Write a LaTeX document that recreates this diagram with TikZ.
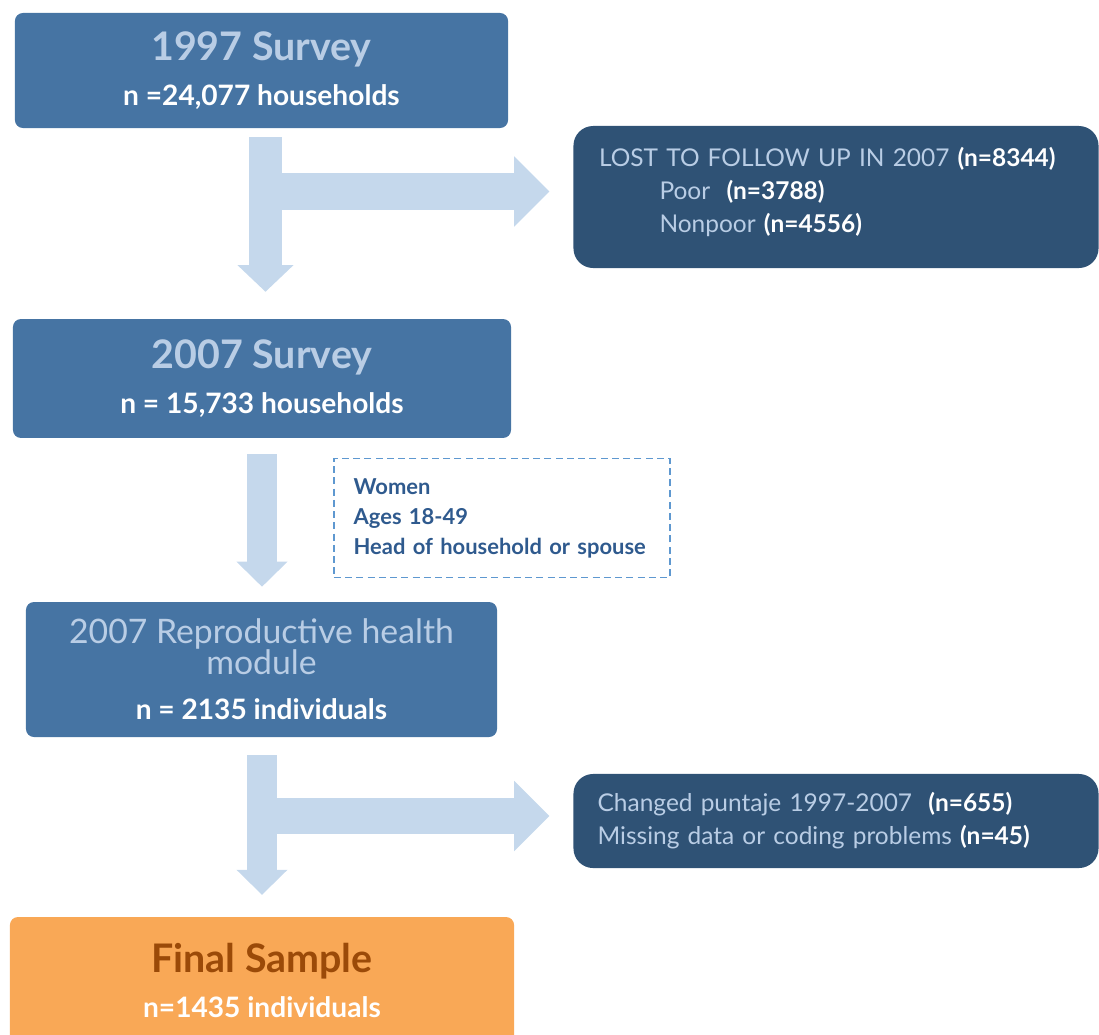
\documentclass[tikz,border=0pt]{standalone}
\usepackage{fontspec}
\setmainfont{Lato}
\usetikzlibrary{positioning,arrows.meta}
\definecolor{boxblue}{HTML}{4674A3}
\definecolor{darkblue}{HTML}{2F5275}
\definecolor{paleblue}{HTML}{B9CDE5}
\definecolor{arrowblue}{HTML}{C5D8EC}
\definecolor{dashblue}{HTML}{5E98D0}
\definecolor{textblue}{HTML}{2F5A8E}
\definecolor{finalorange}{HTML}{F9A856}
\definecolor{finalbrown}{HTML}{9B4A08}
\newcommand\bigtitle{\fontsize{28}{22}\selectfont}
\newcommand\rhtitle{\fontsize{24}{22}\selectfont\mdseries\color{paleblue}}
\begin{document}
\begin{tikzpicture}[x=0.025cm,y=-0.025cm,
survey/.style={
rectangle,
fill=boxblue,
rounded corners=5.7pt,
inner sep=0pt,
align=center,
text=white,
font=\fontsize{20}{22}\selectfont\bfseries
},
lost/.style={
rectangle,
fill=darkblue,
rounded corners=14pt,
inner xsep=18pt,
inner ysep=0pt,
align=left,
text=paleblue,
font=\fontsize{17.4}{23.5}\selectfont
},
filter/.style={
rectangle,
draw=dashblue,
dash pattern=on 5pt off 3pt,
line width=1.1pt,
inner xsep=14pt,
inner ysep=0pt,
align=left,
text=textblue,
font=\fontsize{15.6}{21.3}\selectfont\bfseries
},
down/.style={draw=arrowblue,line width=23pt,-{Triangle[length=19pt,width=40pt,line width=0pt]}},
side/.style={draw=arrowblue,line width=26pt,-{Triangle[length=25pt,width=50pt,line width=0pt]}},
]
\useasboundingbox (0,0) rectangle (1099,1034);
\node (s97) [survey, minimum width=350.7pt, minimum height=81.8pt] at (261.5,70.5)
  {{\bigtitle\color{paleblue}1997 Survey}\\[10pt]n =24,077 households};
\node (lost) [lost, minimum width=373.4pt, minimum height=101pt, text width=337pt, text depth=57.5pt] at (836,197)
  {LOST TO FOLLOW UP IN 2007 {\bfseries\color{white}(n=8344)}\\
   \hspace*{43pt}Poor\ \ {\bfseries\color{white}(n=3788)}\\
   \hspace*{43pt}Nonpoor {\bfseries\color{white}(n=4556)}};
\node (s07) [survey, minimum width=354.2pt, minimum height=84.6pt] at (262,378.5)
  {{\bigtitle\color{paleblue}2007 Survey}\\[10pt]n = 15,733 households};
\node (women) [filter, minimum width=239pt, minimum height=84.6pt, text width=211pt] at (502,518)
  {Women\\Ages 18-49\\Head of household or spouse};
\node (rh) [survey, minimum width=335pt, minimum height=96pt] at (261.5,669.5)
  {{\rhtitle 2007 Reproductive health}\\{\rhtitle module}\\[10pt]n = 2135 individuals};
\node (drop) [lost, minimum width=373.4pt, minimum height=66.9pt, text width=339pt, inner xsep=17pt] at (836,821)
  {Changed puntaje 1997-2007\ \ {\bfseries\color{white}(n=655)}\\
   Missing data or coding problems {\bfseries\color{white}(n=45)}};
\node (final) [survey, fill=finalorange, minimum width=358.5pt, minimum height=89.6pt] at (262,980)
  {{\bigtitle\color{finalbrown}Final Sample}\\[10pt]n=1435 individuals};
% forks of the side arrows
\coordinate (fork1) at (265.5,191.5);
\coordinate (fork3) at (262,816);
\draw[side] (fork1) -- (fork1 -| lost.west) [shorten >=17pt];
\draw[down] (s97.south -| fork1) -- (s07.north -| fork1) [shorten <=6.4pt, shorten >=19.2pt];
\draw[down, line width=21.3pt, -{Triangle[length=17.8pt,width=36.3pt,line width=0pt]}]
  (s07.south -| fork3) -- (rh.north -| fork3) [shorten <=11.4pt, shorten >=10.7pt];
\draw[side] (fork3) -- (fork3 -| drop.west) [shorten >=17pt];
\draw[down, line width=21.3pt, -{Triangle[length=17.8pt,width=36.3pt,line width=0pt]}]
  (rh.south -| fork3) -- (final.north -| fork3) [shorten <=12.8pt, shorten >=15.6pt];
\end{tikzpicture}
\end{document}
